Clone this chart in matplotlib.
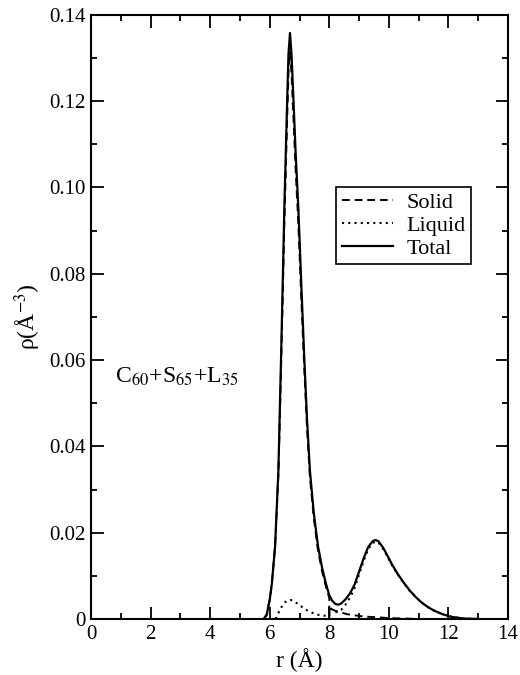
import matplotlib
matplotlib.use('Agg')
import matplotlib.pyplot as plt
from matplotlib.ticker import MultipleLocator, FuncFormatter

plt.rcParams['font.family'] = ['Liberation Serif', 'DejaVu Serif']
plt.rcParams['mathtext.fontset'] = 'stix'

# Total density (solid + liquid)
total_r = [5.80, 5.90, 6.00, 6.07, 6.18, 6.29, 6.38, 6.44, 6.49, 6.55, 6.59, 6.63, 6.68,
           6.73, 6.79, 6.87, 6.96, 7.06, 7.16, 7.25, 7.35, 7.48, 7.62, 7.76, 7.89, 8.00,
           8.10, 8.20, 8.30, 8.40, 8.55, 8.70, 8.85, 9.00, 9.15, 9.30, 9.45, 9.55, 9.65,
           9.80, 9.95, 10.10, 10.30, 10.50, 10.70, 10.90, 11.10, 11.30, 11.50, 11.80,
           12.10, 12.50, 13.00]
total_rho = [0.0, 0.0010, 0.0045, 0.0081, 0.0169, 0.0343, 0.0605, 0.0790, 0.0953, 0.1110,
             0.1214, 0.1310, 0.1358, 0.1310, 0.1214, 0.1080, 0.0953, 0.0775, 0.0605,
             0.0465, 0.0343, 0.0245, 0.0169, 0.0118, 0.0081, 0.0055, 0.0042, 0.0035,
             0.0033, 0.0036, 0.0046, 0.0060, 0.0080, 0.0110, 0.0140, 0.0166, 0.0180,
             0.0183, 0.0180, 0.0166, 0.0147, 0.0127, 0.0104, 0.0084, 0.0066, 0.0051,
             0.0038, 0.0028, 0.0020, 0.0011, 0.0005, 0.0001, 0.0]

# Solid contribution
solid_r = [5.80, 5.90, 6.00, 6.07, 6.18, 6.29, 6.38, 6.44, 6.49, 6.55, 6.59, 6.63, 6.68,
           6.73, 6.79, 6.87, 6.96, 7.06, 7.16, 7.25, 7.35, 7.48, 7.62, 7.76, 7.89, 8.00,
           8.00, 8.00, 8.20, 8.40, 8.60, 8.80, 9.00, 9.30, 9.60, 10.00, 10.50, 11.00]
solid_rho = [0.0, 0.0010, 0.0045, 0.0081, 0.0169, 0.0333, 0.0580, 0.0758, 0.0917, 0.1070,
             0.1172, 0.1267, 0.1314, 0.1266, 0.1172, 0.1041, 0.0917, 0.0743, 0.0580,
             0.0446, 0.0328, 0.0234, 0.0159, 0.0110, 0.0074, 0.0049, 0.0, 0.0025,
             0.0019, 0.0015, 0.0011, 0.0009, 0.0007, 0.0005, 0.0004, 0.0002, 0.0001, 0.0]

# Liquid contribution
liquid_r = [6.20, 6.30, 6.40, 6.50, 6.60, 6.70, 6.80, 6.90, 7.00, 7.20, 7.40, 7.60, 7.80,
            8.00, 8.00, 8.10, 8.20, 8.30, 8.40, 8.55, 8.70, 8.85, 9.00, 9.15, 9.30, 9.45,
            9.55, 9.65, 9.80, 9.95, 10.10, 10.30, 10.50, 10.70, 10.90, 11.10, 11.30,
            11.50, 11.80, 12.10, 12.50, 13.00]
liquid_rho = [0.0, 0.0015, 0.0028, 0.0038, 0.0043, 0.0044, 0.0042, 0.0037, 0.0032, 0.0022,
              0.0015, 0.0010, 0.0008, 0.0006, 0.0030, 0.0020, 0.0016, 0.0016, 0.0021,
              0.0034, 0.0050, 0.0072, 0.0103, 0.0134, 0.0161, 0.0176, 0.0179, 0.0177,
              0.0163, 0.0145, 0.0125, 0.0103, 0.0083, 0.0065, 0.0051, 0.0038, 0.0028,
              0.0020, 0.0011, 0.0005, 0.0001, 0.0]

fig = plt.figure(figsize=(5.2, 6.75), dpi=100)
ax = fig.add_axes([0.175, 0.083, 0.802, 0.895])

ax.plot(solid_r, solid_rho, color='black', lw=1.4, ls=(0, (4, 2.5)), label='Solid')
ax.plot(liquid_r, liquid_rho, color='black', lw=1.5, ls=(0, (1, 2)), label='Liquid')
ax.plot(total_r, total_rho, color='black', lw=1.6, label='Total')

ax.set_xlim(0, 14)
ax.set_ylim(0, 0.14)
ax.xaxis.set_major_locator(MultipleLocator(2))
ax.xaxis.set_minor_locator(MultipleLocator(1))
ax.yaxis.set_major_locator(MultipleLocator(0.02))
ax.yaxis.set_minor_locator(MultipleLocator(0.01))
ax.yaxis.set_major_formatter(FuncFormatter(lambda v, p: '0' if abs(v) < 1e-9 else f'{v:.2f}'))
ax.xaxis.set_major_formatter(FuncFormatter(lambda v, p: f'{v:.0f}'))

ax.tick_params(which='both', direction='in', top=True, right=True, width=1.3, labelsize=15)
ax.tick_params(which='major', length=9, pad=4)
ax.tick_params(which='minor', length=4.5)
for s in ax.spines.values():
    s.set_linewidth(1.5)

ax.set_xlabel('r (Å)', fontsize=17, labelpad=3)
ax.set_ylabel('ρ(Å$^{-3}$)', fontsize=17, labelpad=4)

ax.text(0.8, 0.056, 'C$_{60}$+S$_{65}$+L$_{35}$', fontsize=17, va='center', ha='left')

leg = ax.legend(loc='upper right', bbox_to_anchor=(0.911, 0.715), fontsize=16,
                frameon=True, fancybox=False, handlelength=2.3, handletextpad=0.6,
                borderpad=0.25, labelspacing=0.1, borderaxespad=0)
leg.get_frame().set_edgecolor('black')
leg.get_frame().set_linewidth(1.2)
leg.get_frame().set_alpha(1)

fig.savefig('out.png', dpi=100)
